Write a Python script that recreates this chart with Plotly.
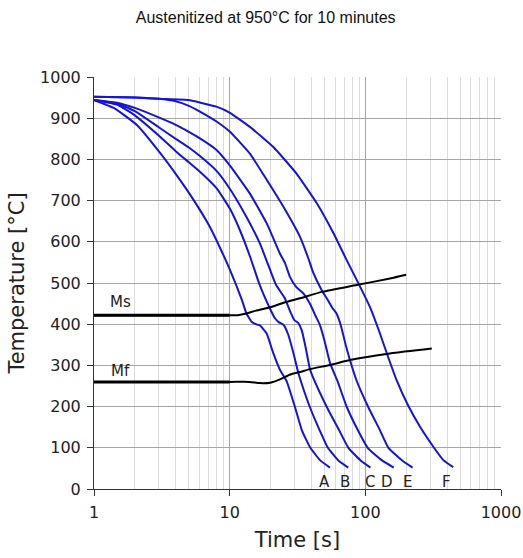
import plotly.graph_objects as go
import numpy as np

# ---------------- data ----------------
curve_names = ["A", "B", "C", "D", "E", "F"]

a_t = [1, 1.4, 2.08, 3.1, 4.1, 5.46, 7.04, 8.5, 10.05, 12.3, 13.3, 14.5, 15.6, 16.7, 18.7, 21, 23.5, 26.3, 30.3, 34, 39, 46.3, 54.8]
a_T = [944, 925, 883, 814, 760, 700, 640, 585, 532, 459, 426, 406, 400, 397, 378, 329, 289, 262, 199, 143, 102, 70, 52]

b_t = [1, 1.5, 2, 3, 4, 5, 6.04, 8, 10.05, 11.9, 14.1, 16.7, 19.8, 21.5, 23, 25, 27, 29.5, 32, 34, 39, 46, 53, 63, 74.8]
b_T = [944, 932, 907, 858, 820, 793, 770, 730, 680, 628, 565, 494, 438, 415, 405, 398, 375, 330, 283, 255, 199, 143, 100, 70, 52]

c_t = [1, 1.5, 2, 3, 4, 5, 6.04, 8, 10.05, 13.3, 16.7, 19.9, 22, 25.5, 28, 30, 32, 34, 36.5, 39, 42, 52, 64, 75, 92, 109]
c_T = [944, 935, 917, 878, 850, 829, 808, 772, 728, 660, 596, 531, 495, 463, 430, 410, 403, 385, 340, 292, 264, 199, 143, 100, 70, 52]

d_t = [1, 1.5, 2, 3, 4, 5, 6.04, 8, 10.05, 14.1, 18.8, 23.5, 25.6, 27.8, 31, 34.9, 39, 43, 46, 50, 55, 62, 73, 88, 104, 132, 162]
d_T = [944, 937, 925, 902, 884, 867, 851, 823, 785, 717, 644, 571, 548, 515, 490, 475, 450, 420, 400, 360, 305, 264, 199, 143, 100, 70, 52]

e_t = [1, 2, 3, 4, 5, 6.04, 8, 10.05, 14.1, 18.8, 24.9, 33, 38, 41.3, 47.6, 53, 57, 61, 66, 72, 77, 86, 105, 128, 148, 186, 223]
e_T = [952, 950, 947, 941, 930, 916, 892, 867, 814, 750, 685, 612, 560, 525, 483, 458, 440, 427, 397, 347, 313, 264, 199, 143, 100, 70, 52]

f_t = [1, 2, 3, 5, 6.04, 8, 10.05, 14.1, 21, 31, 44, 58, 73, 89, 108, 128, 147, 170, 205, 253, 318, 376, 444]
f_T = [952, 950, 947, 944, 938, 928, 913, 879, 830, 766, 693, 622, 555, 499, 442, 378, 321, 264, 205, 151, 102, 70, 53]

ms_t = [1, 10, 11.5, 13.3, 15.6, 19.9, 25, 33, 48.8, 86.3, 152, 200]
ms_T = [422, 422, 422, 426, 433, 441, 452, 463, 479, 495, 511, 520]

mf_t = [1, 10, 14, 16.7, 19.9, 23.5, 28, 33, 39, 55, 77, 152, 309]
mf_T = [260, 260, 260, 257, 258, 266, 278, 284, 291, 301, 313, 329, 341]

label_t = [50.4, 70.7, 108, 144.5, 206, 397]
label_T = [17, 17, 17, 17, 17, 17]

line_labels = ["Ms", "Mf"]
line_label_t = [1.555, 1.555]
line_label_T = [455, 287]

x_tickvals = [1, 10, 100, 1000]
x_minor = [2, 3, 4, 5, 6, 7, 8, 9, 20, 30, 40, 50, 60, 70, 80, 90, 200, 300, 400, 500, 600, 700, 800, 900]
y_tickvals = list(range(0, 1001, 100))

title_text = "Austenitized at 950°C for 10 minutes"
x_title = "Time [s]"
y_title = "Temperature [°C]"

# ---------------- figure ----------------
BLUE = "#1414d8"
fig = go.Figure()

curves = [(a_t, a_T), (b_t, b_T), (c_t, c_T), (d_t, d_T), (e_t, e_T), (f_t, f_T)]
for name, (t, T) in zip(curve_names, curves):
    fig.add_trace(go.Scatter(x=t, y=T, mode="lines", name=name,
                             line=dict(color=BLUE, width=2, shape="spline", smoothing=0.4),
                             showlegend=False, hoverinfo="skip"))

for t, T in [(ms_t, ms_T), (mf_t, mf_T)]:
    fig.add_trace(go.Scatter(x=t, y=T, mode="lines",
                             line=dict(color="black", width=2, shape="spline", smoothing=0.6),
                             showlegend=False, hoverinfo="skip"))
    fig.add_trace(go.Scatter(x=t[:2], y=T[:2], mode="lines",
                             line=dict(color="black", width=3),
                             showlegend=False, hoverinfo="skip"))

annotations = []
for name, t, T in zip(curve_names, label_t, label_T):
    annotations.append(dict(x=np.log10(t), y=T, xref="x", yref="y", text=name,
                            showarrow=False, font=dict(family="DejaVu Sans", size=15, color="#222")))
for name, t, T in zip(line_labels, line_label_t, line_label_T):
    annotations.append(dict(x=np.log10(t), y=T, xref="x", yref="y", text=name,
                            showarrow=False, font=dict(family="DejaVu Sans", size=15, color="#222")))

fig.update_layout(
    width=523, height=558,
    margin=dict(l=94, r=22, t=77, b=69, autoexpand=False),
    paper_bgcolor="white", plot_bgcolor="white",
    title=dict(text=title_text, x=0.508, xref="container", y=0.969, yref="container",
               xanchor="center", yanchor="middle",
               font=dict(family="Liberation Sans", size=16, color="#111")),
    annotations=annotations,
    xaxis=dict(type="log", range=[0, 3], tickvals=x_tickvals, ticktext=[str(v) for v in x_tickvals],
               automargin=False,
               showgrid=True, gridcolor="#a6a6a6", gridwidth=1,
               minor=dict(tickvals=x_minor, showgrid=True, gridcolor="#dcdcdc", gridwidth=1, ticks=""),
               showline=True, linecolor="#333", linewidth=1,
               ticks="outside", ticklen=6, tickcolor="#333", ticklabelstandoff=3,
               tickfont=dict(family="DejaVu Sans", size=16, color="#222"),
               title=dict(text=x_title, font=dict(family="DejaVu Sans", size=21, color="#222"), standoff=11),
               zeroline=False),
    yaxis=dict(range=[0, 1000], tickvals=y_tickvals, automargin=False,
               showgrid=True, gridcolor="#a6a6a6", gridwidth=1,
               showline=True, linecolor="#333", linewidth=1,
               ticks="outside", ticklen=6, tickcolor="#333", ticklabelstandoff=3,
               tickfont=dict(family="DejaVu Sans", size=16, color="#222"),
               title=dict(text=y_title, font=dict(family="DejaVu Sans", size=21, color="#222"), standoff=9),
               zeroline=False),
)

fig.write_html("out.html")
